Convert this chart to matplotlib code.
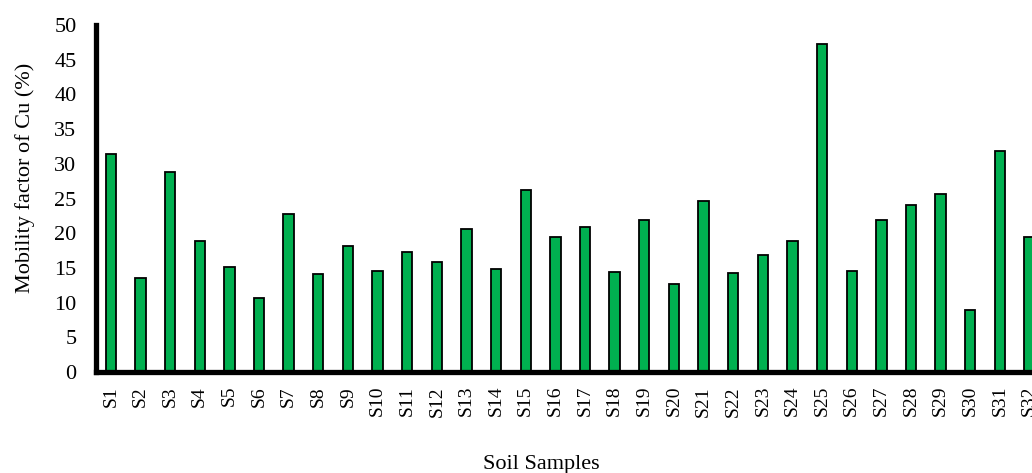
import matplotlib.pyplot as plt

# Mobility factor of Cu per soil sample
samples = ["S%d" % i for i in range(1, 33)]
mf_cu = [31.4, 13.6, 28.8, 18.9, 15.2, 10.6, 22.7, 14.1, 18.2, 14.6,
         17.3, 15.8, 20.6, 14.8, 26.2, 19.5, 20.9, 14.4, 21.9, 12.7,
         24.7, 14.3, 16.9, 18.9, 47.2, 14.5, 21.9, 24.1, 25.7, 8.9,
         31.8, 19.5]

plt.rcParams['font.family'] = ['Liberation Serif', 'DejaVu Serif']

fig = plt.figure(figsize=(10.32, 4.73), dpi=100)
# axes runs a little past the right edge, like the cropped original
ax = fig.add_axes([0.093, 0.2135, 0.919, 0.7336])

ax.bar(samples, mf_cu, width=0.35, color='#00B050', edgecolor='black', linewidth=1.3)

ax.set_xlim(-0.5, len(samples) - 0.5)
ax.set_ylim(0, 50)
ax.set_yticks(range(0, 51, 5))
ax.tick_params(axis='both', length=0)
ax.tick_params(axis='x', rotation=90, pad=10, labelsize=14)
ax.tick_params(axis='y', pad=14, labelsize=16)

for s in ['top', 'right']:
    ax.spines[s].set_visible(False)
for s in ['left', 'bottom']:
    ax.spines[s].set_linewidth(3.8)

ax.set_ylabel("Mobility factor of Cu (%)", fontsize=16, labelpad=14, y=0.56)
ax.set_xlabel("Soil Samples", fontsize=16, labelpad=28, x=0.47)

fig.savefig("out.png", dpi=100)
